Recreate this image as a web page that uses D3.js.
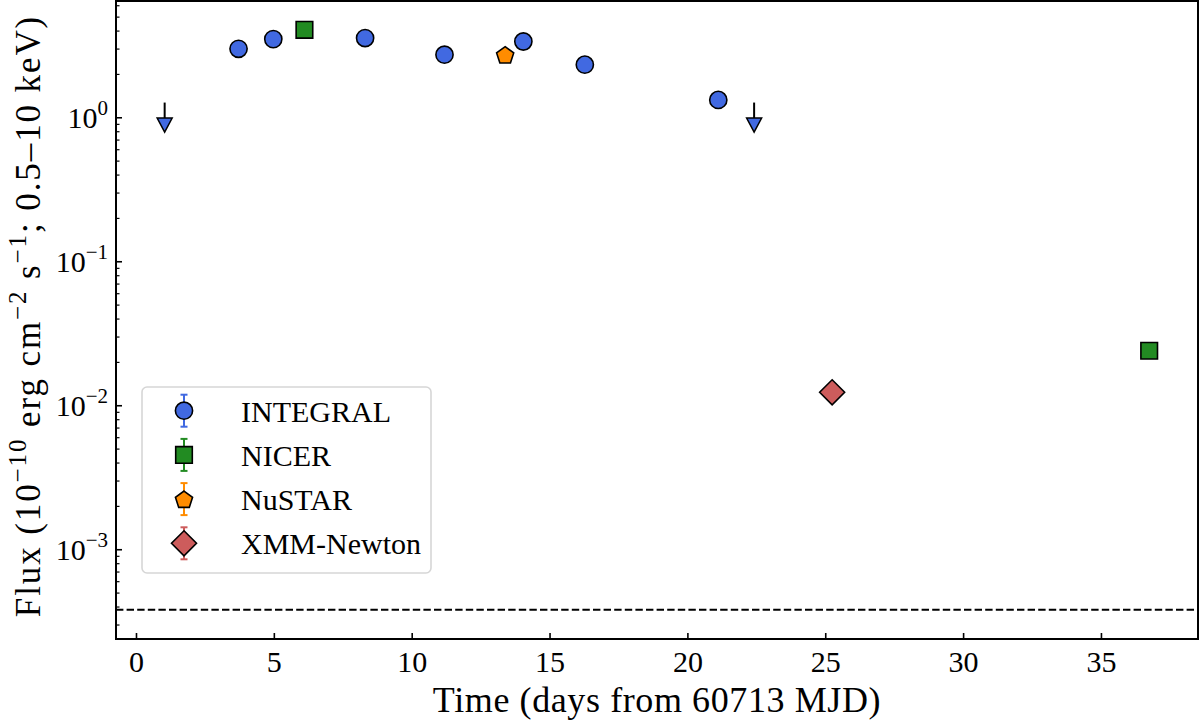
<!DOCTYPE html>
<html>
<head>
<meta charset="utf-8">
<script src="https://d3js.org/d3.v7.min.js"></script>
<title>Light curve</title>
<style>
body { margin: 0; background: #fff; }
svg { display: block; }
text { font-family: "Liberation Serif", "DejaVu Serif", serif; fill: #000; }
</style>
</head>
<body>
<svg width="1200" height="723"></svg>
<script>

// days from 60713 MJD, flux in 1e-10 erg/cm2/s (0.5-10 keV)
let integralTime = [3.72, 4.98, 8.31, 11.19, 14.05, 16.28, 21.12];
let integralFlux = [2.99, 3.49, 3.55, 2.72, 3.36, 2.32, 1.32];
let integralLimTime = [1.04, 22.42];
let integralLimFlux = [0.89, 0.89];
let nicerTime = [6.11, 36.75];
let nicerFlux = [4.05, 0.0239];
let nustarTime = [13.39];
let nustarFlux = [2.72];
let xmmTime = [25.25];
let xmmFlux = [0.0123];
let backgroundLevel = 3.8e-4;

let xTicks = [0, 5, 10, 15, 20, 25, 30, 35];
let yTicks = [1e-3, 1e-2, 1e-1, 1];
let legendNames = ["INTEGRAL", "NICER", "NuSTAR", "XMM-Newton"];

let colors = {
  INTEGRAL: "#4169e1",
  NICER: "#228b22",
  NuSTAR: "#ff8c00",
  "XMM-Newton": "#cd5c5c"
};

let pLeft = 116, pRight = 1198, pTop = 1, pBottom = 639;
let svg = d3.select("svg");

let x = d3.scaleLinear().domain([-0.725, 38.52]).range([pLeft, pRight]);
let y = d3.scaleLog().domain([2.38e-4, 6.42]).range([pBottom, pTop]);

function zip(a, b) {
  return a.map(function(d, i) { return [d, b[i]]; });
}

// marker shapes, roughly the matplotlib ones
function shapePath(name) {
  if (name == "INTEGRAL") return d3.symbol(d3.symbolCircle, Math.PI * 8.6 * 8.6)();
  if (name == "NICER") return "M-8.3,-8.3H8.3V8.3H-8.3Z";
  if (name == "NuSTAR") {
    let pts = d3.range(5).map(function(i) {
      let a = -Math.PI / 2 + i * 2 * Math.PI / 5;
      return [9 * Math.cos(a), 9 * Math.sin(a) + 1];
    });
    return "M" + pts.join("L") + "Z";
  }
  if (name == "XMM-Newton") return "M0,-12.5L12.5,0L0,12.5L-12.5,0Z";
  if (name == "limit") return "M-7.5,-6.5H7.5L0,7.5Z";
}

// background level
svg.append("line")
  .attr("x1", pLeft).attr("x2", pRight)
  .attr("y1", y(backgroundLevel)).attr("y2", y(backgroundLevel))
  .attr("stroke", "black")
  .attr("stroke-width", 2)
  .attr("stroke-dasharray", "7.4,3.2");

// upper limits: short line + down triangle
let lim = svg.append("g").selectAll("g")
  .data(zip(integralLimTime, integralLimFlux))
  .enter().append("g")
  .attr("transform", function(d) { return "translate(" + x(d[0]) + "," + y(d[1]) + ")"; });
lim.append("line")
  .attr("x1", 0).attr("x2", 0)
  .attr("y1", -22).attr("y2", 0)
  .attr("stroke", "black").attr("stroke-width", 2);
lim.append("path")
  .attr("d", shapePath("limit"))
  .attr("fill", colors.INTEGRAL)
  .attr("stroke", "black").attr("stroke-width", 1.5)
  .attr("stroke-linejoin", "miter");

let series = [
  ["INTEGRAL", integralTime, integralFlux],
  ["NICER", nicerTime, nicerFlux],
  ["NuSTAR", nustarTime, nustarFlux],
  ["XMM-Newton", xmmTime, xmmFlux]
];

series.forEach(function(s) {
  svg.append("g").selectAll("path")
    .data(zip(s[1], s[2]))
    .enter().append("path")
    .attr("d", shapePath(s[0]))
    .attr("transform", function(d) { return "translate(" + x(d[0]) + "," + y(d[1]) + ")"; })
    .attr("fill", colors[s[0]])
    .attr("stroke", "black")
    .attr("stroke-width", 1.6);
});

// axes: inward ticks on left and bottom only
let xAxis = svg.append("g")
  .attr("transform", "translate(0," + pBottom + ")")
  .call(d3.axisBottom(x).tickValues(xTicks).tickSize(-6).tickPadding(12).tickFormat(d3.format("d")));
xAxis.select(".domain").remove();
xAxis.selectAll("line").attr("stroke-width", 1.6);
xAxis.selectAll("text").attr("font-size", 30).attr("dy", "0.71em");

let minorY = [];
[-4, -3, -2, -1, 0].forEach(function(e) {
  for (let m = 2; m < 10; m++) {
    let v = m * Math.pow(10, e);
    if (v > y.domain()[0] && v < y.domain()[1]) minorY.push(v);
  }
});
let yMinor = svg.append("g")
  .attr("transform", "translate(" + pLeft + ",0)")
  .call(d3.axisLeft(y).tickValues(minorY).tickSize(-3.5).tickFormat(""));
yMinor.select(".domain").remove();
yMinor.selectAll("line").attr("stroke-width", 1.2);

let yAxis = svg.append("g")
  .attr("transform", "translate(" + pLeft + ",0)")
  .call(d3.axisLeft(y).tickValues(yTicks).tickSize(-6).tickFormat(""));
yAxis.select(".domain").remove();
yAxis.selectAll("line").attr("stroke-width", 1.6);

let yLab = svg.append("g").selectAll("text")
  .data(yTicks)
  .enter().append("text")
  .attr("x", 108)
  .attr("y", function(d) { return y(d) + 11; })
  .attr("text-anchor", "end")
  .attr("font-size", 30);
yLab.append("tspan").text("10");
yLab.append("tspan")
  .attr("font-size", 21)
  .attr("dy", -13)
  .text(function(d) { let e = Math.round(Math.log10(d)); return e < 0 ? "\u2212" + (-e) : e; });

// frame
svg.append("rect")
  .attr("x", pLeft).attr("y", pTop)
  .attr("width", pRight - pLeft).attr("height", pBottom - pTop)
  .attr("fill", "none")
  .attr("stroke", "black")
  .attr("stroke-width", 2);

// axis titles
svg.append("text")
  .attr("x", (pLeft + pRight) / 2)
  .attr("y", 712)
  .attr("text-anchor", "middle")
  .attr("font-size", 36)
  .attr("letter-spacing", 0.6)
  .text("Time (days from 60713 MJD)");

let yt = svg.append("text")
  .attr("transform", "translate(40," + ((pTop + pBottom) / 2 - 4) + ") rotate(-90)")
  .attr("text-anchor", "middle")
  .attr("font-size", 35)
  .attr("letter-spacing", 1.9);
[["Flux (10", false], ["\u221210", true], [" erg cm", false], ["\u22122", true],
 [" s", false], ["\u22121", true], ["; 0.5\u201310 keV)", false]].forEach(function(p, i, arr) {
  let t = yt.append("tspan").text(p[0]);
  if (p[1]) t.attr("font-size", 25).attr("dy", -14);
  else if (i > 0 && arr[i - 1][1]) t.attr("dy", 14);
});

// legend
let lg = svg.append("g");
lg.append("rect")
  .attr("x", 142).attr("y", 387)
  .attr("width", 289).attr("height", 186)
  .attr("rx", 5)
  .attr("fill", "white").attr("fill-opacity", 0.8)
  .attr("stroke", "#d6d6d6").attr("stroke-width", 1.6);

let rowY = d3.scalePoint().domain(legendNames).range([410.7, 543.3]);
let row = lg.selectAll("g.row")
  .data(legendNames)
  .enter().append("g")
  .attr("class", "row")
  .attr("transform", function(d) { return "translate(184," + rowY(d) + ")"; });
row.append("line")
  .attr("y1", -16).attr("y2", 16)
  .attr("stroke", function(d) { return colors[d]; }).attr("stroke-width", 2);
row.selectAll("line.cap")
  .data(function(d) { return [[d, -16], [d, 16]]; })
  .enter().append("line")
  .attr("class", "cap")
  .attr("x1", -3.5).attr("x2", 3.5)
  .attr("y1", function(d) { return d[1]; }).attr("y2", function(d) { return d[1]; })
  .attr("stroke", function(d) { return colors[d[0]]; }).attr("stroke-width", 2);
row.append("path")
  .attr("d", function(d) { return shapePath(d); })
  .attr("fill", function(d) { return colors[d]; })
  .attr("stroke", "black").attr("stroke-width", 1.6);
row.append("text")
  .attr("x", 57)
  .attr("y", 11)
  .attr("font-size", 30)
  .text(function(d) { return d; });

</script>
</body>
</html>
